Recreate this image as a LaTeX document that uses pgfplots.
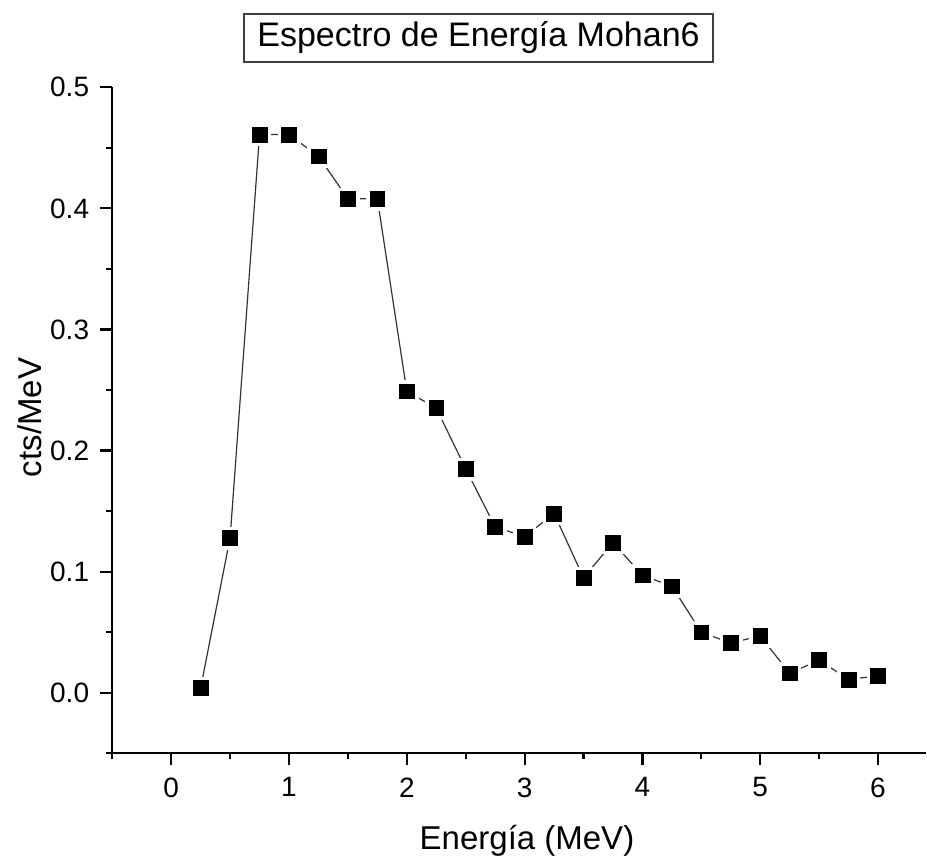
\documentclass[border=0pt]{standalone}
\usepackage{pgfplots}
\usepackage{pgfplotstable}
\pgfplotsset{compat=1.18}
\usepackage{fontspec}
\setmainfont{Liberation Sans}

% Energy spectrum: counts per MeV in 0.25 MeV bins
\pgfplotstableread{
E     cts
0.25  0.004
0.50  0.128
0.75  0.461
1.00  0.461
1.25  0.443
1.50  0.408
1.75  0.408
2.00  0.249
2.25  0.235
2.50  0.185
2.75  0.137
3.00  0.129
3.25  0.148
3.50  0.095
3.75  0.124
4.00  0.097
4.25  0.088
4.50  0.050
4.75  0.041
5.00  0.047
5.25  0.016
5.50  0.027
5.75  0.011
6.00  0.014
}\spectrum

\begin{document}
\begin{tikzpicture}
\useasboundingbox (0pt,0pt) rectangle (927pt,-855pt);
\begin{axis}[
  at={(112.3pt,-753.3pt)}, anchor=south west,
  scale only axis, width=814pt, height=666pt,
  xmin=-0.5, xmax=6.41, ymin=-0.05, ymax=0.5,
  axis x line=bottom, axis y line=left,
  axis line style={-, line width=2.3pt},
  xtick={0,1,...,6}, ytick={0,0.1,...,0.5},
  minor xtick={-0.5,0.5,1.5,2.5,3.5,4.5,5.5},
  minor ytick={-0.05,0.05,0.15,0.25,0.35,0.45},
  tick align=outside,
  major tick length=12pt, minor tick length=6pt,
  every tick/.style={black, line width=2.2pt},
  tick label style={font=\fontsize{28}{28}\selectfont},
  /pgf/number format/assume math mode=true,
  yticklabel style={inner sep=0pt, xshift=-11pt,
    /pgf/number format/.cd, fixed, fixed zerofill, precision=1},
  xticklabel style={inner sep=0pt, yshift=-12pt,
    /pgf/number format/.cd, fixed},
  clip=false,
]
  \addplot[line width=1.2pt, draw=black!80] table[x=E, y=cts] {\spectrum};
  % white halo so the connecting line stops short of each square
  \addplot[only marks, mark=square*, mark size=11pt,
           mark options={fill=white, draw=white}] table[x=E, y=cts] {\spectrum};
  \addplot[only marks, mark=square*, mark size=7.4pt,
           mark options={fill=black, draw=black, line width=0.6pt}] table[x=E, y=cts] {\spectrum};
\end{axis}
\node[draw=black!75, line width=1.5pt, minimum width=469pt, minimum height=48pt,
      font=\fontsize{34}{34}\selectfont, inner sep=0pt] at (478.5pt,-38pt) {Espectro de Energía Mohan6};
\node[font=\fontsize{33}{33}\selectfont, rotate=90] at (30pt,-417.5pt) {cts/MeV};
\node[font=\fontsize{33}{33}\selectfont, anchor=base] at (527pt,-849pt) {Energía (MeV)};
\end{tikzpicture}
\end{document}
